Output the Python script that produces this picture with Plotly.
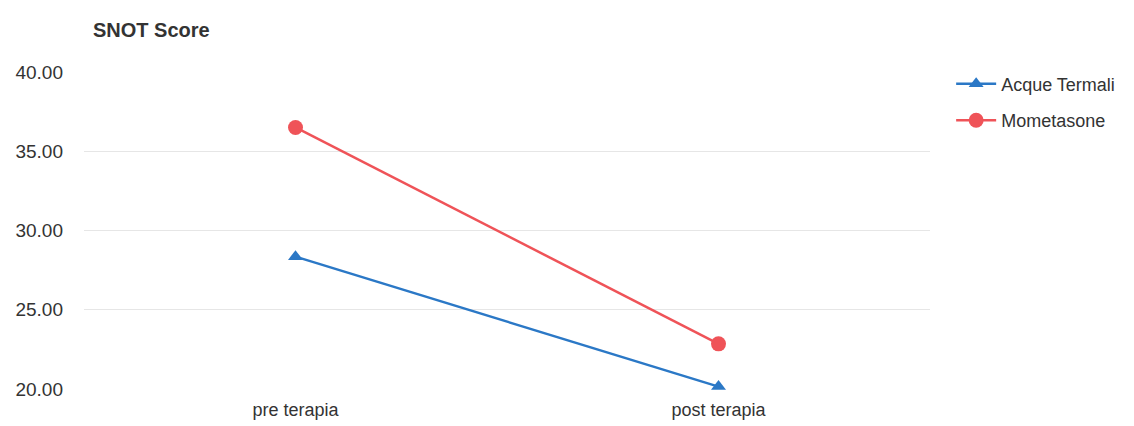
import plotly.graph_objects as go

categories = ["pre terapia", "post terapia"]
acque_termali = [28.35, 20.15]
mometasone = [36.5, 22.85]
y_ticks = [20, 25, 30, 35, 40]

fig = go.Figure()
fig.add_trace(go.Scatter(
    x=categories, y=acque_termali, name="Acque Termali", mode="lines+markers",
    legendgroup="a",
    line=dict(color="#2b78c6", width=2.5),
    marker=dict(symbol="triangle-up", size=13, color="#2b78c6"),
    cliponaxis=False,
))
fig.add_trace(go.Scatter(
    x=categories, y=mometasone, name="Mometasone", mode="lines+markers",
    legendgroup="m",
    line=dict(color="#ef5358", width=2.5),
    marker=dict(symbol="circle", size=15, color="#ef5358"),
    cliponaxis=False,
))

fig.update_layout(
    width=1134, height=426,
    margin=dict(l=84, r=204, t=72, b=37),
    paper_bgcolor="white", plot_bgcolor="white",
    font=dict(family="Liberation Sans, Arial", size=18, color="#333333"),
    title=dict(text="<b>SNOT Score</b>", x=93/1134, xanchor="left", y=1-30/426, yanchor="middle",
               font=dict(size=20, color="#333333")),
    xaxis=dict(showgrid=False, showline=False, zeroline=False, ticks="",
               tickfont=dict(size=18), range=[-0.5, 1.5], ticklabelstandoff=8,
               automargin=False),
    yaxis=dict(range=[20, 40], tickvals=y_ticks, tickformat=".2f", showgrid=True,
               gridcolor="#e6e6e6", gridwidth=1, zeroline=False, showline=False,
               tickfont=dict(size=19), ticklabelstandoff=20, automargin=False),
    legend=dict(x=1.025, y=1.02, xanchor="left", yanchor="top", font=dict(size=18),
                itemwidth=40, tracegroupgap=10),
    showlegend=True,
)

fig.write_html("out.html")
